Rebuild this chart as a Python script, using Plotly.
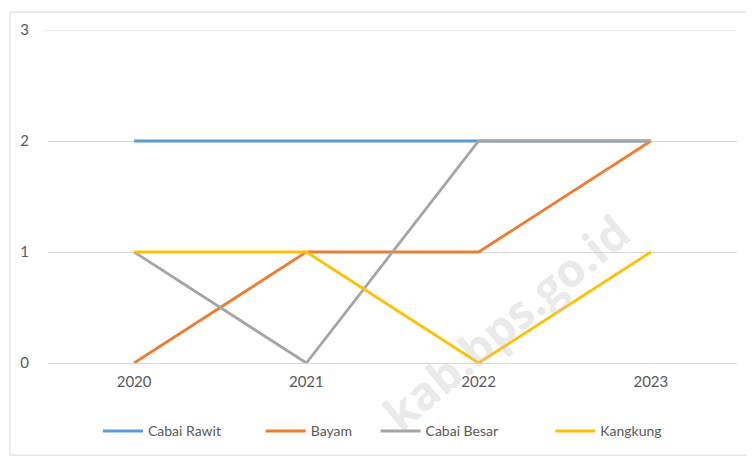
import plotly.graph_objects as go

years = ["2020", "2021", "2022", "2023"]
cabai_rawit = [2, 2, 2, 2]
bayam = [0, 1, 1, 2]
cabai_besar = [1, 0, 2, 2]
kangkung = [1, 1, 0, 1]

names = ["Cabai Rawit", "Bayam", "Cabai Besar", "Kangkung"]
values = [cabai_rawit, bayam, cabai_besar, kangkung]
colors = ["#5B9BD5", "#ED7D31", "#A5A5A5", "#FFC000"]
legend_ids = ["legend", "legend2", "legend3", "legend4"]
legend_x_ref = [97, 260, 375, 550]  # legend item start in reference pixels

W, H = 754, 459
OFF = 8  # page body margin
L, R, T, B = 47 - OFF, 17 + OFF, 27 - OFF, 96 + OFF
pw = W - L - R
ph = H - T - B


def px(X):
    return (X - OFF - L) / pw


def py(Y):
    return (T + ph - (Y - OFF)) / ph


fig = go.Figure()
for name, vals, color, lg in zip(names, values, colors, legend_ids):
    fig.add_trace(go.Scatter(x=years, y=vals, name=name, mode="lines",
                             legend=lg, line=dict(color=color, width=2.8)))

layout_legends = {}
for lg, xr in zip(legend_ids, legend_x_ref):
    layout_legends[lg] = dict(x=px(xr), xanchor="left", y=py(432),
                              yanchor="middle", orientation="h",
                              font=dict(size=14, color="#595959"),
                              bgcolor="rgba(0,0,0,0)", itemwidth=40)

fig.update_layout(
    width=W, height=H,
    margin=dict(l=L, r=R, t=T, b=B),
    paper_bgcolor="white", plot_bgcolor="white",
    font=dict(family="Lato, Open Sans, sans-serif", size=14, color="#595959"),
    showlegend=True,
    xaxis=dict(type="category", range=[-0.5, 3.5], showgrid=False,
               showline=True, linecolor="#D9D9D9", linewidth=1,
               ticks="", tickfont=dict(size=15, color="#595959"),
               ticklabelstandoff=5, zeroline=False, fixedrange=True),
    yaxis=dict(range=[0, 3], tickvals=[0, 1, 2, 3], showgrid=True,
               gridcolor="#D9D9D9", gridwidth=1, zeroline=False,
               showline=False, ticks="", tickfont=dict(size=15, color="#595959"),
               ticklabelstandoff=18, fixedrange=True),
    shapes=[
        dict(type="rect", xref="paper", yref="paper",
             x0=px(9), x1=px(748), y0=py(456), y1=py(9),
             line=dict(color="#D9D9D9", width=1), layer="below"),
        dict(type="line", xref="paper", yref="y",
             x0=px(42), x1=px(737), y0=3, y1=3,
             line=dict(color="#D9D9D9", width=1), layer="below"),
    ],
    annotations=[dict(text="<b>kab.bps.go.id</b>", xref="paper", yref="paper",
                      x=px(505), y=py(322), xanchor="center", yanchor="middle",
                      showarrow=False, textangle=-40,
                      font=dict(size=46, color="rgba(200,200,200,0.4)",
                                family="Open Sans, sans-serif"))],
    **layout_legends,
)

fig.write_html("out.html")
